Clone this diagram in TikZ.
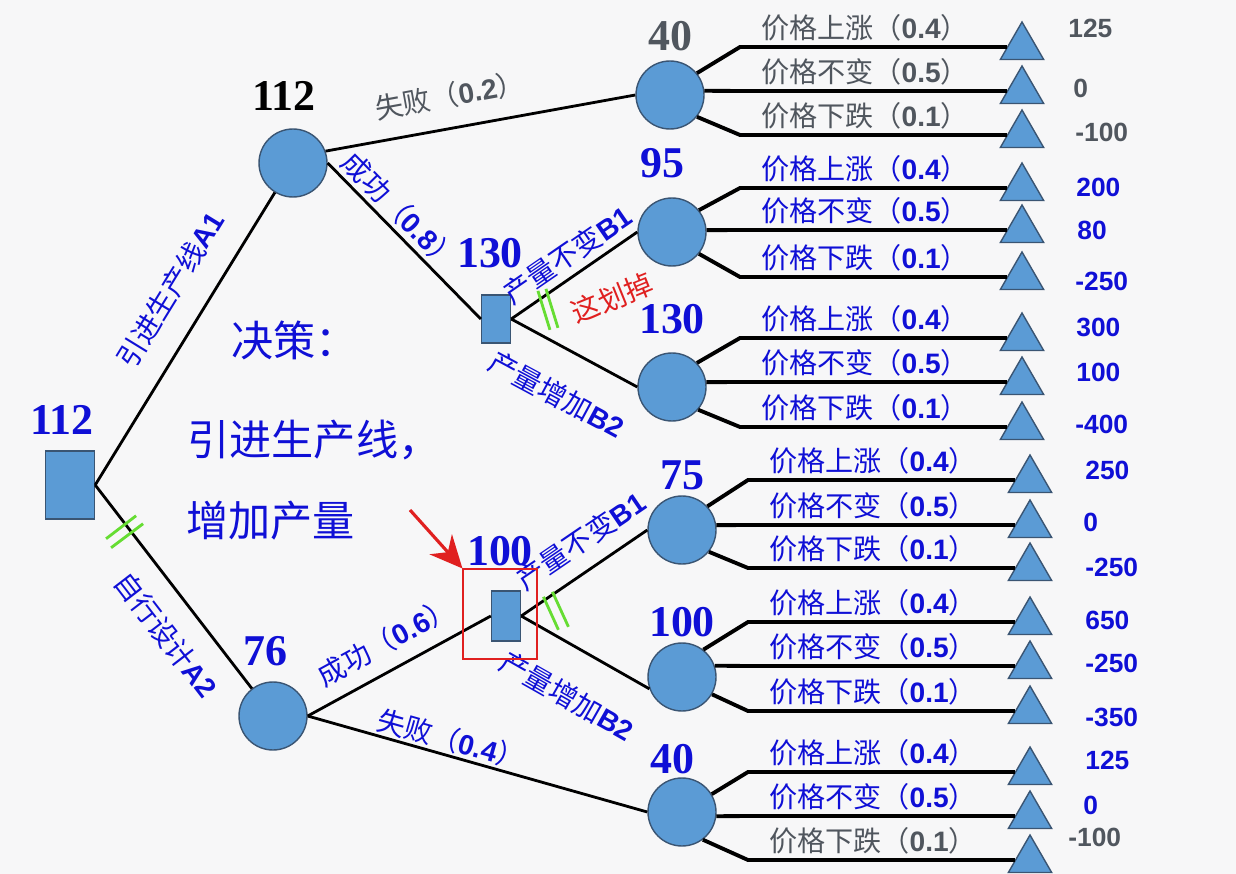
\documentclass[tikz,border=0pt]{standalone}
\usepackage{fontspec}
\setmainfont{Liberation Sans}
\newfontfamily\cjk{Noto Sans CJK SC}
\newfontfamily\evfont{Liberation Serif}
\usepackage{tikz}
\usetikzlibrary{shapes.geometric,arrows.meta,positioning}

\definecolor{nodefill}{HTML}{5B9BD5}
\definecolor{nodeedge}{HTML}{3A5573}
\definecolor{txtblue}{HTML}{0F0FD6}
\definecolor{txtgray}{HTML}{50565E}
\definecolor{cutgreen}{HTML}{66DD33}
\definecolor{arrowred}{HTML}{E02020}
\definecolor{bgpaper}{HTML}{F7F7F8}
\newcommand{\probval}[1]{{\normalfont\bfseries #1}}

\begin{document}
\begin{tikzpicture}[
    x=0.02cm, y=-0.02cm,
    chance/.style={circle, draw=nodeedge, fill=nodefill, line width=0.8pt, minimum size=1.36cm, inner sep=0pt},
    choice/.style={rectangle, draw=nodeedge, fill=nodefill, line width=0.8pt, inner sep=0pt},
    leaf/.style={regular polygon, regular polygon sides=3, draw=nodeedge, fill=nodefill, line width=0.8pt, minimum size=1.0cm, inner sep=0pt},
    stem/.style={line width=1.6pt},
    twig/.style={line width=2.2pt},
    ev/.style={font=\evfont\bfseries\fontsize{25}{25}\selectfont, text=txtblue, inner sep=0pt},
    pay/.style={font=\bfseries\fontsize{15}{15}\selectfont, anchor=west, inner sep=0pt},
    price/.style={font=\cjk\fontsize{16}{16}\selectfont, inner sep=0pt},
    branch/.style={font=\cjk\fontsize{16}{16}\selectfont, text=txtblue, sloped, inner sep=1pt},
    note/.style={font=\cjk\fontsize{24}{24}\selectfont, text=txtblue, anchor=west, inner sep=0pt},
    cut/.style={draw=cutgreen, line width=1.6pt},
    pointer/.style={-{Stealth[length=0.65cm, width=0.6cm]}, draw=arrowred, line width=1.8pt}
]
    \fill[bgpaper] (0,0) rectangle (1236,874);
    \useasboundingbox (0,0) rectangle (1236,874);

    % Decision and first chance nodes
    \node[choice, minimum width=0.98cm, minimum height=1.36cm] (root) at (70,485) {};
    \node[chance] (c112) at (293,163) {};
    \node[chance] (c76) at (273,716) {};

    % Second decisions
    \node[choice, minimum width=0.58cm, minimum height=0.96cm] (d130) at (496,319) {};
    \node[choice, minimum width=0.58cm, minimum height=1.0cm] (d100) at (506,616) {};

    % Price nodes
    \node[chance] (c40a) at (670,95) {};
    \node[chance] (c95) at (672,232) {};
    \node[chance] (c130) at (672,387) {};
    \node[chance] (c75) at (682,530) {};
    \node[chance] (c100) at (682,677) {};
    \node[chance] (c40b) at (682,812) {};

    % Expected values
    \node[ev, above=9pt of root, xshift=-0.16cm] (ev0) {112};
    \node[ev, text=black, above=10pt of c112, xshift=-0.18cm] (ev1) {112};
    \node[ev, above=8.5pt of c76, xshift=-0.16cm] (ev2) {76};
    \node[ev, above=15pt of d130, xshift=-0.12cm] (ev3) {130};
    \node[ev, above=13.5pt of d100, xshift=-0.12cm] (ev4) {100};
    \node[ev, text=txtgray, above=5pt of c40a] (ev5) {40};
    \node[ev, above=11pt of c95, xshift=-0.2cm] (ev6) {95};
    \node[ev, above=10pt of c130] (ev7) {130};
    \node[ev, above=3pt of c75] (ev8) {75};
    \node[ev, above=3pt of c100] (ev9) {100};
    \node[ev, above=2pt of c40b, xshift=-0.2cm] (ev10) {40};

    % Arrows - first stage
    \draw[stem] (root.east) -- node[branch, above=12.5pt, pos=0.6] {引进生产线\probval{A1}} (c112);
    \draw[stem] (root.east) -- coordinate[pos=0.21] (cutA2) node[branch, below=11pt, pos=0.63] {自行设计\probval{A2}} (c76);

    % Arrows - line A1
    \draw[stem] (c112.20) -- node[branch, text=txtgray, above=9pt, pos=0.42] {失败（\probval{0.2}）} (c40a.west);
    \draw[stem] (c112.east) -- node[branch, above=1pt, pos=0.39] {成功（\probval{0.8}）} (d130.west);
    \draw[stem] (d130.east) -- coordinate[pos=0.22] (cutB1a) node[branch, above=2.5pt, pos=0.54] {产量不变\probval{B1}} (c95.west);
    \draw[stem] (d130.east) -- node[branch, below=16.5pt, pos=0.53] {产量增加\probval{B2}} (c130.west);

    % Arrows - line A2
    \draw[stem] (c76.east) -- node[branch, above=6.5pt, pos=0.5] {成功（\probval{0.6}）} (d100.west);
    \draw[stem] (c76.east) -- node[branch, above=0pt, pos=0.41] {失败（\probval{0.4}）} (c40b.west);
    \draw[stem] (d100.east) -- coordinate[pos=0.2] (cutB1b) node[branch, above=7pt, pos=0.6] {产量不变\probval{B1}} (c75.west);
    \draw[stem] (d100.east) -- node[branch, below=17.5pt, pos=0.54] {产量增加\probval{B2}} (c100.200);

    % Price outcomes
    \foreach \c/\a/\y/\kx/\tx/\w/\p/\v/\vx/\vy/\col [count=\i] in {
        c40a/39/47/740/1022/上涨/0.4/125/1068/28/txtgray,
        c40a/7/91/740/1022/不变/0.5/0/1073/88/txtgray,
        c40a/-39/135/740/1022/下跌/0.1/-100/1075/132/txtgray,
        c95/39/188/740/1022/上涨/0.4/200/1076/187/txtblue,
        c95/3/230/740/1022/不变/0.5/80/1077/230/txtblue,
        c95/-39/277/740/1022/下跌/0.1/-250/1075/281/txtblue,
        c130/44/338/740/1022/上涨/0.4/300/1076/327/txtblue,
        c130/8/382/740/1022/不变/0.5/100/1076/372/txtblue,
        c130/-41/427/740/1022/下跌/0.1/-400/1075/424/txtblue,
        c75/43/480/748/1030/上涨/0.4/250/1085/470/txtblue,
        c75/8/525/748/1030/不变/0.5/0/1083/522/txtblue,
        c75/-39/568/748/1030/下跌/0.1/-250/1085/567/txtblue,
        c100/52/622/748/1030/上涨/0.4/650/1085/620/txtblue,
        c100/19/666/748/1030/不变/0.5/-250/1085/663/txtblue,
        c100/-30/711/748/1030/下跌/0.1/-350/1085/717/txtblue,
        c40b/31/772/748/1030/上涨/0.4/125/1085/760/txtblue,
        c40b/-7/816/748/1030/不变/0.5/0/1083/805/txtblue,
        c40b/-53/860/748/1030/下跌/0.1/-100/1068/837/txtgray}{
        \node[leaf] (t\i) at (\tx,\y) {};
        \draw[twig] (\c.\a) -- (\kx,\y) -- (t\i);
        \node[price, text=\col] (p\i) at (\kx+125,\y-19) {价格\w（\probval{\p}）};
        \node[pay, text=\col] (v\i) at (\vx,\vy) {\v};
    }

    % Decision note
    \node[note] (dec1) at (231,340) {决策：};
    \node[note] (dec2) at (187,440) {引进生产线，};
    \node[note] (dec3) at (186,521) {增加产量};

    % Pruning marks
    \draw[cut, shift={(cutA2)}] (-22,11) -- (8,-12) (-17,20) -- (15,-4);
    \draw[cut, shift={(cutB1a)}] (-1,-9) -- (11,30) (7,-11) -- (19,28);
    \draw[cut, shift={(cutB1b)}] (-3,-2) -- (12,31) (6,-7) -- (22,28);
    \node[font=\cjk\fontsize{16}{16}\selectfont, text=arrowred, rotate=22] (scrawl) at (612,298) {这划掉};

    % Highlight
    \node[draw=arrowred, line width=0.6pt, minimum width=1.48cm, minimum height=1.8cm, inner sep=0pt] (hl) at (500,614) {};
    \coordinate (arrtail) at (410,510);
    \draw[pointer] (arrtail) -- (hl.north west);
\end{tikzpicture}
\end{document}
